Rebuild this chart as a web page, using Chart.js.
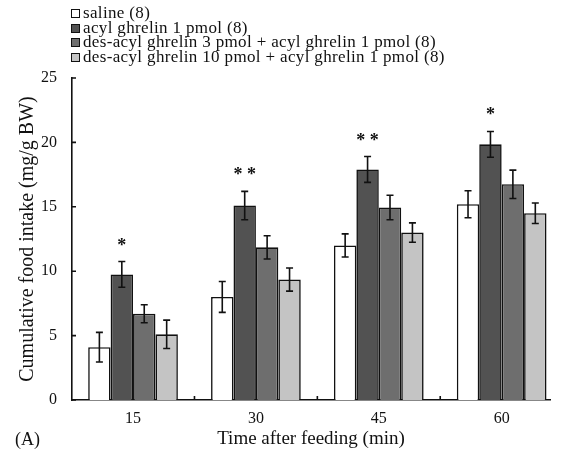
<!DOCTYPE html>
<html>
<head>
<meta charset="utf-8">
<script src="https://cdn.jsdelivr.net/npm/chart.js@4/dist/chart.umd.min.js"></script>
<style>
  html, body { margin: 0; padding: 0; background: #fff; }
  #wrap { position: relative; width: 569px; height: 454px; font-family: "Liberation Serif", "DejaVu Serif", serif; color: #111; }
  #chart { position: absolute; left: 0; top: 0; }
  #legend { position: absolute; left: 71px; top: 6px; font-size: 17px; line-height: 14.7px; letter-spacing: 0.35px; }
  #legend div { display: flex; align-items: center; white-space: nowrap; }
  #legend .box { width: 7px; height: 7px; border: 1.3px solid #111; margin-right: 3px; box-sizing: content-box; }
  #panel { position: absolute; left: 15px; top: 429px; font-size: 18px; }
</style>
</head>
<body>
<div id="wrap">
  <canvas id="chart" width="569" height="454"></canvas>
  <div id="legend"></div>
  <div id="panel">(A)</div>
</div>
<script>
// time points (min)
const minutes = [15, 30, 45, 60];

const seriesNames = [
  "saline (8)",
  "acyl ghrelin 1 pmol (8)",
  "des-acyl ghrelin 3 pmol + acyl ghrelin 1 pmol (8)",
  "des-acyl ghrelin 10 pmol + acyl ghrelin 1 pmol (8)"
];

// cumulative food intake (mg/g BW), mean and SE
const saline = [4.1, 8.0, 12.0, 15.2];
const salineSE = [1.15, 1.2, 0.9, 1.05];
const acyl = [9.75, 15.1, 17.9, 19.85];
const acylSE = [1.0, 1.1, 1.0, 1.0];
const des3 = [6.7, 11.85, 14.95, 16.75];
const des3SE = [0.7, 0.9, 0.95, 1.1];
const des10 = [5.1, 9.35, 13.0, 14.5];
const des10SE = [1.1, 0.9, 0.75, 0.8];

// significance marks over acyl ghrelin bars
const sigMarks = ["*", "**", "**", "*"];

const means = [saline, acyl, des3, des10];
const errs = [salineSE, acylSE, des3SE, des10SE];
const fills = ["#ffffff", "#525252", "#6e6e6e", "#c4c4c4"];
const ink = "#111";
const serif = "'Liberation Serif', 'DejaVu Serif', serif";

// html legend, one per line like the figure
const legendEl = document.getElementById("legend");
seriesNames.forEach((name, k) => {
  const row = document.createElement("div");
  const box = document.createElement("span");
  box.className = "box";
  box.style.background = fills[k];
  row.appendChild(box);
  row.appendChild(document.createTextNode(name));
  legendEl.appendChild(row);
});

const extras = {
  id: "extras",
  afterDatasetsDraw(chart) {
    const { ctx, scales: { x, y } } = chart;
    ctx.save();
    ctx.strokeStyle = ink;
    ctx.lineWidth = 1.6;

    // error bars
    errs.forEach((se, k) => {
      const meta = chart.getDatasetMeta(k);
      meta.data.forEach((bar, i) => {
        const top = y.getPixelForValue(means[k][i] + se[i]);
        const bot = y.getPixelForValue(means[k][i] - se[i]);
        const cx = bar.x;
        ctx.beginPath();
        ctx.moveTo(cx, top); ctx.lineTo(cx, bot);
        ctx.moveTo(cx - 3.5, top); ctx.lineTo(cx + 3.5, top);
        ctx.moveTo(cx - 3.5, bot); ctx.lineTo(cx + 3.5, bot);
        ctx.stroke();
      });
    });

    // asterisks
    ctx.fillStyle = ink;
    ctx.font = "bold 18px " + serif;
    ctx.textAlign = "center";
    ctx.textBaseline = "alphabetic";
    const acylMeta = chart.getDatasetMeta(1);
    sigMarks.forEach((s, i) => {
      const top = y.getPixelForValue(acyl[i] + acylSE[i]);
      ctx.fillText(s.split("").join(" "), acylMeta.data[i].x, top - 11);
    });

    // inward tick marks
    const base = y.getPixelForValue(0);
    ctx.beginPath();
    for (let i = 0; i < minutes.length - 1; i++) {
      const px = x.getPixelForValue((minutes[i] + minutes[i + 1]) / 2);
      ctx.moveTo(px, base); ctx.lineTo(px, base - 4);
    }
    y.ticks.forEach(t => {
      const py = y.getPixelForValue(t.value);
      ctx.moveTo(x.left, py); ctx.lineTo(x.left + 4, py);
    });
    ctx.stroke();
    ctx.restore();
  }
};

new Chart(document.getElementById("chart"), {
  type: "bar",
  data: {
    datasets: means.map((vals, k) => ({
      label: seriesNames[k],
      data: minutes.map((m, i) => ({ x: m, y: vals[i] })),
      backgroundColor: fills[k],
      borderColor: ink,
      borderWidth: 1.6,
      categoryPercentage: 0.73,
      barPercentage: 1.0
    }))
  },
  options: {
    responsive: false,
    animation: false,
    layout: { padding: { top: 78, right: 19, left: 0, bottom: 0 } },
    plugins: { legend: { display: false }, tooltip: { enabled: false } },
    scales: {
      x: {
        type: "linear",
        min: 7.55,
        max: 65.9,
        offset: false,
        grid: { display: false },
        border: { color: ink, width: 1.6 },
        afterBuildTicks: s => { s.ticks = minutes.map(v => ({ value: v })); },
        afterFit: s => { s.height = 54; },
        ticks: { color: ink, font: { family: serif, size: 16 }, padding: 1, autoSkip: false, maxRotation: 0 },
        title: {
          display: true,
          text: "Time after feeding (min)",
          color: ink,
          font: { family: serif, size: 19 },
          padding: { top: 0, bottom: 4 }
        }
      },
      y: {
        min: 0,
        max: 25,
        grid: { display: false },
        border: { color: ink, width: 1.6 },
        afterFit: s => { s.width = 72; },
        ticks: { stepSize: 5, color: ink, font: { family: serif, size: 16 }, padding: 7 },
        title: {
          display: true,
          text: "Cumulative food intake (mg/g BW)",
          color: ink,
          font: { family: serif, size: 20 },
          padding: { top: 16, bottom: 0 }
        }
      }
    }
  },
  plugins: [extras]
});
</script>
</body>
</html>
